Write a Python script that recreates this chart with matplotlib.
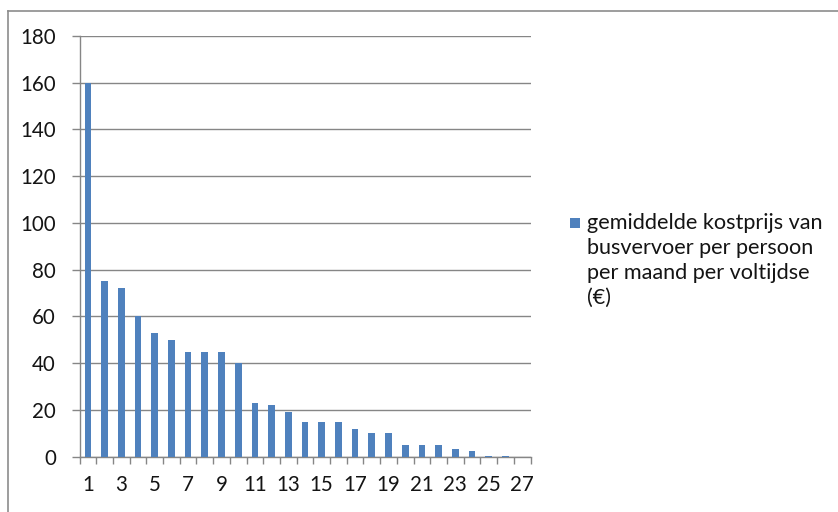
import matplotlib
matplotlib.use("Agg")
import matplotlib.pyplot as plt
from matplotlib.patches import Rectangle
from matplotlib.lines import Line2D
import numpy as np

categories = list(range(1, 28))
values = [160, 75, 72, 60, 53, 50, 45, 45, 45, 40, 23, 22, 19, 15, 15, 15,
          12, 10, 10, 5, 5, 5, 3.5, 2.5, 0.5, 0.5, 0]
series_label = "gemiddelde kostprijs van\nbusvervoer per persoon\nper maand per voltijdse\n(€)"
y_ticks = list(range(0, 181, 20))
x_tick_labels = [str(c) for c in categories[::2]]

W, H = 838, 512
plt.rcParams["font.family"] = ["Lato", "DejaVu Sans"]
fig = plt.figure(figsize=(W / 100, H / 100), dpi=100)
fig.patch.set_facecolor("white")

ax = fig.add_axes([79.5 / W, 1 - 456.7 / H, (530.5 - 79.5) / W, (456.7 - 36) / H])

bar_color = "#4F81BD"
grid_color = "#868686"
text_color = "#141414"
label_size = 14.8

x = np.arange(len(categories))
ax.bar(x, values, width=0.4, color=bar_color, zorder=3)

ax.set_xlim(-0.5, len(categories) - 0.5)
ax.set_ylim(0, 180)
ax.set_yticks(y_ticks)
ax.yaxis.grid(True, color=grid_color, linewidth=1.0, zorder=0)

ax.set_xticks(x[::2])
ax.set_xticklabels(x_tick_labels)
ax.set_xticks(np.arange(-0.5, len(categories), 1.0), minor=True)
ax.tick_params(axis="x", which="major", length=0, pad=13, labelsize=label_size,
               labelcolor=text_color)
ax.tick_params(axis="x", which="minor", length=5, width=1, color=grid_color, direction="out")
ax.tick_params(axis="y", which="major", length=6, width=1, color=grid_color, pad=11,
               labelsize=label_size, labelcolor=text_color)

for side in ("top", "right"):
    ax.spines[side].set_visible(False)
for side in ("left", "bottom"):
    ax.spines[side].set_color(grid_color)
    ax.spines[side].set_linewidth(1.0)

# legend drawn as a swatch plus wrapped label
fig.patches.append(Rectangle((570 / W, 1 - 227.5 / H), 9.5 / W, 9.5 / H,
                             transform=fig.transFigure, facecolor=bar_color,
                             edgecolor="none"))
fig.text(587 / W, 1 - 213 / H, series_label, ha="left", va="top",
         fontsize=15.6, color=text_color, linespacing=1.3)

# outer chart frame
fig.lines.append(Line2D([7.5 / W, 1.0], [1 - 10.5 / H, 1 - 10.5 / H],
                        transform=fig.transFigure, color="#8c8c8c", linewidth=1.2))
fig.lines.append(Line2D([7.5 / W, 7.5 / W], [1 - 10.5 / H, 0.0],
                        transform=fig.transFigure, color="#8c8c8c", linewidth=1.2))

fig.savefig("out.png", dpi=100, facecolor="white")
